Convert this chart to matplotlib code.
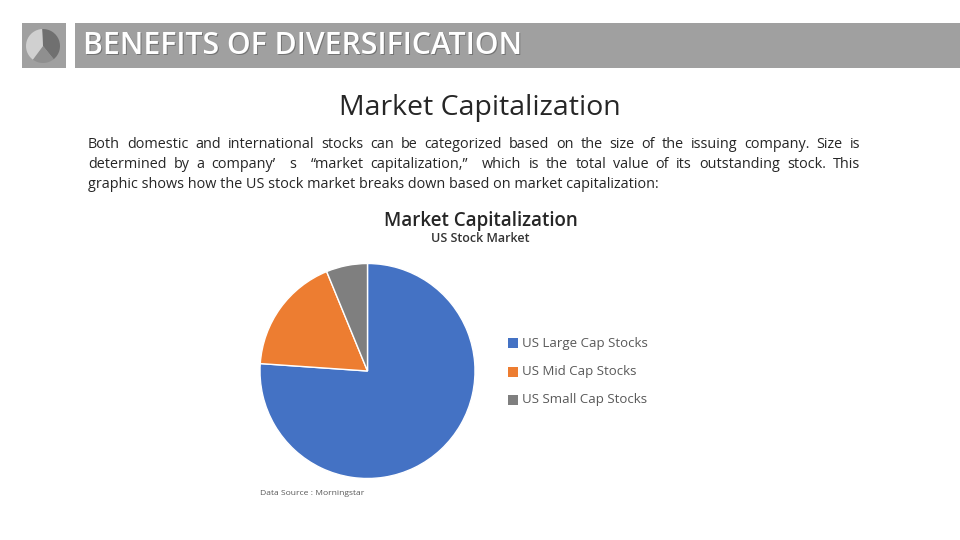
import matplotlib
matplotlib.use('Agg')
import matplotlib.pyplot as plt
from matplotlib.patches import Rectangle

plt.rcParams['font.family'] = ['Open Sans', 'Noto Sans', 'DejaVu Sans']

# Data
categories = ['US Large Cap Stocks', 'US Mid Cap Stocks', 'US Small Cap Stocks']
shares = [76.1, 17.7, 6.2]
colors = ['#4472c4', '#ed7d31', '#7f7f7f']

logo_shares = [40, 21, 39]
logo_colors = ['#707070', '#8f8f8f', '#d0d0d0']

header = 'BENEFITS OF DIVERSIFICATION'
title = 'Market Capitalization'
chart_title = 'Market Capitalization'
chart_subtitle = 'US Stock Market'
source = 'Data Source : Morningstar'
body_lines = [
    ('Both domestic and international stocks can be categorized based on the size of the issuing company. Size is', True),
    ('determined by a company\u2019  s  \u201cmarket capitalization,\u201d  which is the total value of its outstanding stock. This', True),
    ('graphic shows how the US stock market breaks down based on market capitalization:', False),
]

W, H = 960, 540
fig = plt.figure(figsize=(W / 100, H / 100), dpi=100, facecolor='white')

# page axes in pixel coords, y down
page = fig.add_axes([0, 0, 1, 1])
page.set_xlim(0, W)
page.set_ylim(H, 0)
page.axis('off')

# Header band
page.add_patch(Rectangle((22, 23), 44, 45, fc='#a0a0a0', ec='none'))
page.add_patch(Rectangle((75, 23), 885, 45, fc='#a0a0a0', ec='none'))
page.text(84, 47, header, color='#555555', fontsize=21.7, va='center', ha='left', alpha=0.6,
          fontweight='semibold')
page.text(83, 46.5, header, color='white', fontsize=21.7, va='center', ha='left',
          fontweight='semibold')

# Logo pie
logo = fig.add_axes([26 / W, 1 - 63 / H, 34 / W, 34 / H])
logo.pie(logo_shares, colors=logo_colors, startangle=93, counterclock=False, radius=1.0,
         wedgeprops={'linewidth': 0})
logo.set_xlim(-1, 1)
logo.set_ylim(-1, 1)

page.text(480, 108.5, title, color='#262626', fontsize=20.5, ha='center', va='center')

# Body text, justified by hand
renderer = fig.canvas.get_renderer()
body_left, body_right = 88, 860
body_size = 10.35
for i, (line, justify) in enumerate(body_lines):
    y = 144 + i * 20
    if not justify:
        page.text(body_left, y, line, fontsize=body_size, color='#262626', va='center')
        continue
    words = line.split(' ')
    widths = []
    for w in words:
        t = page.text(0, 0, w, fontsize=body_size)
        widths.append(t.get_window_extent(renderer).width if w else 0)
        t.remove()
    gap = (body_right - body_left - sum(widths)) / (len(words) - 1)
    x = body_left
    for w, wd in zip(words, widths):
        page.text(x, y, w, fontsize=body_size, color='#262626', va='center')
        x += wd + gap

page.text(481, 221, chart_title, fontsize=13.5, fontweight='semibold', color='#262626',
          ha='center', va='center')
page.text(480, 238, chart_subtitle, fontsize=9, fontweight='semibold', color='#333333',
          ha='center', va='center')

# Main pie
cx, cy, r = 367.5, 371, 107.5
ax = fig.add_axes([(cx - r) / W, 1 - (cy + r) / H, 2 * r / W, 2 * r / H])
wedges, _ = ax.pie(shares, colors=colors, startangle=90, counterclock=False, radius=1.0,
                   wedgeprops={'edgecolor': 'white', 'linewidth': 1})
ax.set_xlim(-1, 1)
ax.set_ylim(-1, 1)

# Legend
for i, (c, name) in enumerate(zip(colors, categories)):
    y = 343 + i * 28.5
    page.add_patch(Rectangle((508, y - 5), 9.5, 10, fc=c, ec='none'))
    page.text(522, y, name, fontsize=9.55, color='#595959', va='center', fontweight='medium')

page.text(260, 493.5, source, fontsize=6.1, color='#595959', va='center')

fig.savefig('out.png', dpi=100)
